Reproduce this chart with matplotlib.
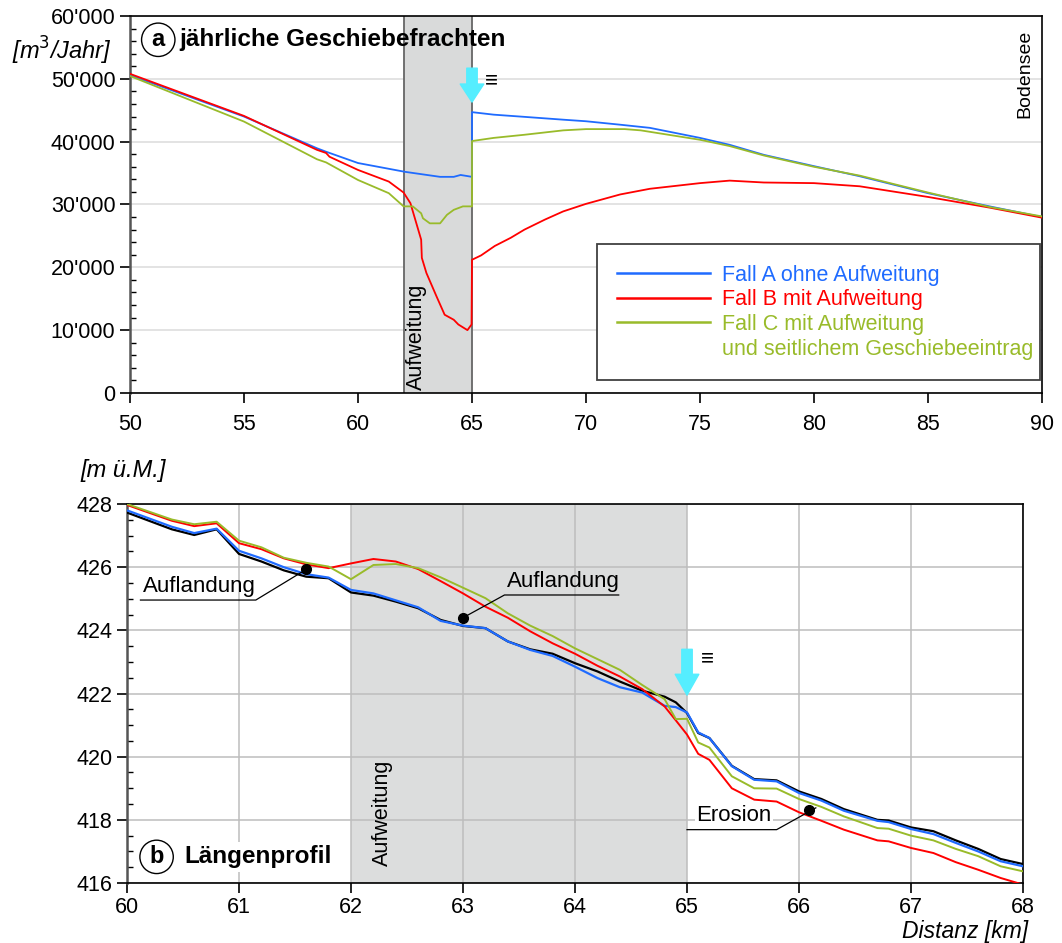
import numpy as np
import matplotlib
matplotlib.use('Agg')
import matplotlib.pyplot as plt
from matplotlib.ticker import MultipleLocator, FuncFormatter
from matplotlib.lines import Line2D

plt.rcParams['font.family'] = ['Liberation Sans', 'DejaVu Sans']

# ---- panel a: annual bedload [m3/Jahr] vs km
a_km = [50, 55, 58.2, 58.6, 60, 62.06, 63.6, 64.2, 64.5, 65, 65, 65.95, 67.3, 69, 70,
        71.5, 72.8, 75, 76.3, 77.8, 80, 82, 85, 87.7, 90]
a_val = [50600, 44000, 38950, 38400, 36600, 35200, 34400, 34400, 34700, 34400, 44700,
         44300, 43950, 43500, 43250, 42700, 42200, 40600, 39500, 37900, 36100, 34500,
         31800, 29700, 28000]

b_km = [50, 55, 58.2, 58.6, 58.75, 60, 61.35, 62.0, 62.3, 62.77, 62.8, 63.0, 63.44,
        63.8, 64.2, 64.4, 64.8, 64.98, 65, 65.4, 66.0, 66.7, 67.3, 68.2, 69, 70, 71.5,
        72.8, 75, 76.3, 77.8, 80, 82, 85, 87.7, 90]
b_val = [50800, 44100, 38700, 38200, 37600, 35500, 33650, 31900, 30200, 24400, 21500,
         19100, 15400, 12450, 11650, 10900, 10000, 10900, 21200, 21900, 23400, 24700,
         26000, 27600, 28900, 30100, 31600, 32500, 33400, 33800, 33500, 33400, 32900,
         31200, 29500, 27900]

c_km = [50, 55, 58.2, 58.6, 60, 61.35, 62.0, 62.4, 62.77, 62.85, 63.15, 63.6, 63.9,
        64.2, 64.6, 65, 65, 65.95, 67.3, 69, 70, 71.7, 72.4, 75, 76.3, 77.8, 80, 82,
        85, 87.7, 90]
c_val = [50450, 43200, 37200, 36700, 33900, 31800, 29700, 29700, 28600, 27800, 27000,
         27000, 28350, 29150, 29700, 29700, 40100, 40600, 41100, 41800, 42000, 42000,
         41800, 40300, 39300, 37800, 36000, 34600, 31900, 29600, 28100]

# ---- panel b: longitudinal profile [m ü.M.]
p_km = [60, 60.4, 60.6, 60.8, 61.0, 61.2, 61.4, 61.6, 61.8, 62.0, 62.2, 62.4, 62.6,
        62.8, 63.0, 63.2, 63.4, 63.6, 63.8, 64.0, 64.2, 64.4, 64.6, 64.8, 64.9, 65.0,
        65.1, 65.2, 65.4, 65.6, 65.8, 66.0, 66.2, 66.4, 66.7, 66.8, 67.0, 67.2, 67.4,
        67.6, 67.8, 68.0]
h_init = [427.73, 427.2, 427.02, 427.2, 426.42, 426.18, 425.9, 425.7, 425.65, 425.2,
          425.1, 424.91, 424.7, 424.33, 424.14, 424.07, 423.65, 423.4, 423.26, 422.96,
          422.7, 422.38, 422.09, 421.9, 421.72, 421.38, 420.75, 420.59, 419.71, 419.29,
          419.25, 418.9, 418.66, 418.34, 418.0, 417.98, 417.76, 417.64, 417.35, 417.08,
          416.76, 416.6]
h_a = [427.8, 427.28, 427.08, 427.22, 426.52, 426.28, 426.0, 425.78, 425.67, 425.28,
       425.17, 424.95, 424.73, 424.3, 424.15, 424.07, 423.65, 423.38, 423.19, 422.85,
       422.49, 422.2, 422.03, 421.61, 421.57, 421.4, 420.77, 420.59, 419.7, 419.27,
       419.22, 418.85, 418.61, 418.29, 417.97, 417.93, 417.71, 417.55, 417.27, 417.0,
       416.69, 416.53]
h_b = [427.97, 427.47, 427.3, 427.39, 426.76, 426.57, 426.28, 426.09, 425.97, 426.12,
       426.26, 426.18, 425.94, 425.56, 425.17, 424.75, 424.4, 423.97, 423.59, 423.26,
       422.88, 422.54, 422.14, 421.59, 421.15, 420.7, 420.09, 419.9, 419.0, 418.64,
       418.58, 418.24, 417.97, 417.69, 417.35, 417.32, 417.11, 416.95, 416.66, 416.42,
       416.16, 415.95]
h_c = [428.0, 427.51, 427.36, 427.44, 426.84, 426.63, 426.3, 426.14, 426.02, 425.62,
       426.07, 426.1, 425.97, 425.68, 425.35, 425.02, 424.54, 424.15, 423.82, 423.43,
       423.09, 422.75, 422.27, 421.82, 421.19, 421.2, 420.45, 420.29, 419.38, 419.0,
       418.99, 418.66, 418.41, 418.11, 417.74, 417.72, 417.5, 417.35, 417.08, 416.85,
       416.53, 416.37]

labels = ['Fall A ohne Aufweitung', 'Fall B mit Aufweitung', 'Fall C mit Aufweitung',
          'und seitlichem Geschiebeeintrag']
blue, red, green = '#1f6bff', '#ff0000', '#99bb2a'
cyan = '#55eeff'
shade = '#d9dada'

fig = plt.figure(figsize=(10.62, 9.43), dpi=100)
ax1 = fig.add_axes([0.1224, 0.5833, 0.8588, 0.3997])
ax2 = fig.add_axes([0.1196, 0.0636, 0.8437, 0.4019])

# ---------------- panel a
ax1.axvspan(62, 65, color=shade, lw=0, zorder=1)
ax1.axvline(62, color='#666666', lw=1.3, zorder=1.1)
ax1.axvline(65, color='#666666', lw=1.3, zorder=1.1)
ax1.plot(a_km, a_val, color=blue, lw=1.3, zorder=3)
ax1.plot(b_km, b_val, color=red, lw=1.3, zorder=3)
ax1.plot(c_km, c_val, color=green, lw=1.3, zorder=3)
ax1.set_xlim(50, 90)
ax1.set_ylim(0, 60000)
ax1.xaxis.set_major_locator(MultipleLocator(5))
ax1.yaxis.set_major_locator(MultipleLocator(10000))
ax1.yaxis.set_minor_locator(MultipleLocator(2000))
ax1.yaxis.set_major_formatter(FuncFormatter(lambda v, p: f"{int(v):,}".replace(',', "'")))
ax1.grid(axis='y', color='#e0e0e0', lw=1.3)
ax1.set_axisbelow(True)
ax1.tick_params(which='major', direction='out', length=7, labelsize=15.5, width=1.2)
ax1.tick_params(which='minor', direction='in', length=4, width=1)
ax1.tick_params(axis='x', pad=8)
ax1.spines['left'].set_linewidth(1.8)
ax1.spines['left'].set_color('#555555')
for s in ['top', 'bottom', 'right']:
    ax1.spines[s].set_linewidth(1.2)

ax1.text(0.031, 0.937, 'a', transform=ax1.transAxes, ha='center', va='center',
         fontsize=17, fontweight='bold',
         bbox=dict(boxstyle='circle,pad=0.22', fc='white', ec='black', lw=1))
ax1.text(0.054, 0.937, 'jährliche Geschiebefrachten', transform=ax1.transAxes,
         ha='left', va='center', fontsize=17.5, fontweight='bold', zorder=5)
ax1.text(62.1, 400, 'Aufweitung', rotation=90, ha='left', va='bottom', fontsize=15.5)
ax1.text(89.6, 57800, 'Bodensee', rotation=90, ha='right', va='top', fontsize=14)
ax1.annotate('', xy=(65, 46300), xytext=(65, 51700),
             arrowprops=dict(arrowstyle='simple,head_length=1.3,head_width=1.7,tail_width=0.75',
                             color=cyan, shrinkA=0, shrinkB=0, mutation_scale=10), zorder=6)
ax1.text(65.55, 49600, '≡', ha='left', va='center', fontsize=16)

handles = [Line2D([], [], color=blue, lw=1.8), Line2D([], [], color=red, lw=1.8),
           Line2D([], [], color=green, lw=1.8), Line2D([], [], color='none')]
leg = ax1.legend(handles, labels, loc='lower left', bbox_to_anchor=(0.512, 0.034, 0.486, 0.337),
                 mode='expand', borderaxespad=0, handlelength=4.3, handletextpad=0.55,
                 labelspacing=0.17, borderpad=0.95, fancybox=False, framealpha=1,
                 prop={'family': ['Liberation Sans Narrow', 'Liberation Sans'], 'size': 15.5})
leg.get_frame().set_edgecolor('#404040')
leg.get_frame().set_linewidth(1.3)
for t, c in zip(leg.get_texts(), [blue, red, green, green]):
    t.set_color(c)

fig.text(0.058, 0.946, '[m$^3$/Jahr]', ha='center', va='center', fontsize=17, style='italic')

# ---------------- panel b
ax2.axvspan(62, 65, color='#dcdddd', lw=0, zorder=0.2)
ax2.plot(p_km, h_init, color='black', lw=1.6, zorder=3)
ax2.plot(p_km, h_a, color=blue, lw=1.6, zorder=3)
ax2.plot(p_km, h_b, color=red, lw=1.4, zorder=3)
ax2.plot(p_km, h_c, color=green, lw=1.4, zorder=3)
ax2.set_xlim(60, 68)
ax2.set_ylim(416, 428)
ax2.xaxis.set_major_locator(MultipleLocator(1))
ax2.yaxis.set_major_locator(MultipleLocator(2))
ax2.yaxis.set_minor_locator(MultipleLocator(0.5))
ax2.grid(which='major', color='#bdbdbd', lw=1.1)
ax2.set_axisbelow(True)
ax2.tick_params(which='major', direction='out', length=7, labelsize=15.5, width=1.2)
ax2.tick_params(which='minor', direction='in', length=4, width=1)
ax2.tick_params(axis='x', pad=3)
ax2.spines['left'].set_linewidth(1.8)
ax2.spines['left'].set_color('#555555')
for s in ['top', 'bottom', 'right']:
    ax2.spines[s].set_linewidth(1.2)

ax2.text(0.033, 0.069, 'b', transform=ax2.transAxes, ha='center', va='center',
         fontsize=17, fontweight='bold',
         bbox=dict(boxstyle='circle,pad=0.22', fc='white', ec='black', lw=1))
ax2.text(0.064, 0.069, 'Längenprofil', transform=ax2.transAxes, ha='left', va='center',
         fontsize=17.5, fontweight='bold', zorder=5,
         bbox=dict(boxstyle='square,pad=0.15', fc='white', ec='none'))
ax2.text(62.28, 416.55, 'Aufweitung', rotation=90, ha='center', va='bottom', fontsize=15.5)

# annotations
ax2.plot([60.12, 61.15, 61.6], [424.96, 424.96, 425.93], color='black', lw=0.9, zorder=4)
ax2.plot(61.6, 425.93, 'o', color='black', ms=7, zorder=5)
ax2.text(60.65, 425.05, 'Auflandung', ha='center', va='bottom', fontsize=16, zorder=5)
ax2.plot([63.0, 63.37, 64.39], [424.4, 425.12, 425.12], color='black', lw=0.9, zorder=4)
ax2.plot(63.0, 424.4, 'o', color='black', ms=7, zorder=5)
ax2.text(63.9, 425.2, 'Auflandung', ha='center', va='bottom', fontsize=16, zorder=5)
ax2.text(65.42, 417.8, 'Erosion', ha='center', va='bottom', fontsize=16, zorder=5,
         bbox=dict(boxstyle='square,pad=0.05', fc='white', ec='none'))
ax2.plot([65.0, 65.8, 66.15], [417.69, 417.69, 418.38], color='black', lw=0.9, zorder=6)
ax2.plot(66.09, 418.32, 'o', color='black', ms=7, zorder=6)

ax2.annotate('', xy=(65, 421.95), xytext=(65, 423.4),
             arrowprops=dict(arrowstyle='simple,head_length=1.5,head_width=1.7,tail_width=0.75',
                             color=cyan, shrinkA=0, shrinkB=0, mutation_scale=10), zorder=6)
ax2.text(65.12, 423.1, '≡', ha='left', va='center', fontsize=16)

fig.text(0.116, 0.501, '[m ü.M.]', ha='center', va='center', fontsize=17, style='italic')
fig.text(0.968, 0.0, 'Distanz [km]', ha='right', va='bottom', fontsize=16.5, style='italic')

fig.savefig('out.png', dpi=100)
